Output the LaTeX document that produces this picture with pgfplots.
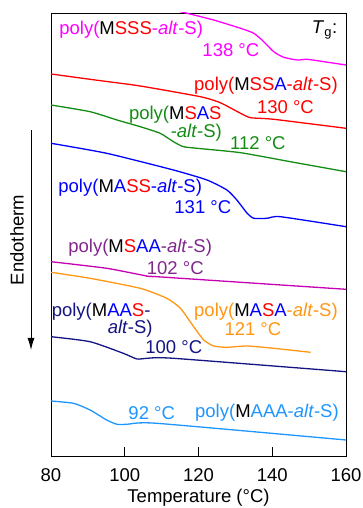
\documentclass[border=0pt]{standalone}
\usepackage{pgfplots}
\pgfplotsset{compat=1.18}
\usetikzlibrary{arrows.meta}
\usepackage{fontspec}
\setmainfont{Liberation Sans}
\definecolor{cmag}{RGB}{255,0,255}
\definecolor{cred}{RGB}{255,0,0}
\definecolor{cgreen}{RGB}{20,140,20}
\definecolor{cblue}{RGB}{0,0,255}
\definecolor{cpurp}{RGB}{128,40,140}
\definecolor{cpurpline}{RGB}{200,0,180}
\definecolor{corange}{RGB}{255,150,20}
\definecolor{cnavy}{RGB}{20,20,130}
\definecolor{clight}{RGB}{30,150,255}
\newcommand{\fs}{\fontsize{18.5}{22}\selectfont}
\newcommand{\Mk}{\textcolor{black}{M}}
\newcommand{\Sr}[1]{\textcolor{red}{#1}}
\newcommand{\Ab}[1]{\textcolor{blue}{#1}}
\begin{document}
\begin{tikzpicture}
\begin{axis}[
  scale only axis, width=295pt, height=443pt,
  xmin=80, xmax=160, ymin=-456, ymax=-13,
  xtick={80,100,120,140,160}, ytick=\empty,
  xtick pos=left, major tick length=9pt,
  axis line style={line width=0.9pt}, every tick/.style={line width=0.9pt, black},
  tick label style={font=\fs}, /pgf/number format/assume math mode=true,
  xticklabel style={anchor=base, yshift=-25.7pt},
  xlabel={Temperature (°C)}, label style={font=\fs},
  xlabel style={at={(axis description cs:0.5,0)}, anchor=base, yshift=-46.5pt},
  clip=true,
  every axis plot/.append style={line width=1.3pt, smooth, tension=0.35},
]
\addplot[cmag] coordinates {(110,-7)(116.9,-13.3)(124.1,-20)(131.4,-28.3)(135.0,-33.3)(137.7,-41.7)(140.4,-51.7)(143.1,-57.3)(146.8,-60)(149.5,-59.3)(154.0,-61.7)(160,-65)};
\addplot[cred] coordinates {(80,-74)(92,-80)(104.2,-86)(120.5,-96.7)(125.9,-102.7)(131.4,-113.3)(134.1,-117.7)(140.4,-119.3)(160,-128.3)};
\addplot[cgreen] coordinates {(80,-105)(90.6,-111.7)(97.9,-120)(104.2,-126.7)(109.6,-133.3)(113.2,-141.7)(115.9,-146.7)(119.6,-148.3)(131.4,-152.7)(144.9,-161.7)(160,-171.7)};
\addplot[cblue] coordinates {(80,-143.3)(95.1,-153.3)(113.2,-170)(122.3,-180)(127.7,-190)(130.4,-200)(133.2,-213.3)(135.0,-218.3)(138.6,-218.3)(142.2,-216.7)(160,-226.7)};
\addplot[cpurpline] coordinates {(80,-261.7)(95.1,-268.3)(106.0,-276)(108.7,-276.7)(160,-289.3)};
\addplot[corange] coordinates {(80,-272.3)(90.6,-278.3)(104.2,-288.3)(111.4,-298.3)(115.1,-308.3)(118.7,-326.7)(121.4,-340)(124.1,-346)(127.7,-347.3)(133.2,-346)(140.4,-348.3)(150.4,-352.3)};
\addplot[cnavy] coordinates {(80,-336.7)(90.6,-341.7)(99.6,-353.3)(103.3,-359)(106.0,-358.3)(113.2,-358.3)(160,-371.7)};
\addplot[clight] coordinates {(80,-401)(86.1,-403.3)(90.6,-410)(95.1,-420)(97.9,-424.3)(100.6,-424.3)(108.7,-423.3)(160,-440)};
\begin{scope}[every node/.style={font=\fs, inner sep=0pt}]
\node[text=cmag] at (axis cs:101.74,-30) {poly(\Mk\Sr{SSS}-\textit{alt}-S)};
\node[text=cmag] at (axis cs:128.78,-50) {138 °C};
\node[text=black] at (axis cs:154.18,-30) {\textit{T}\textsubscript{g}:};
\node[text=cred] at (axis cs:138.29,-86) {poly(\Mk\Sr{SS}\Ab{A}-\textit{alt}-S)};
\node[text=cred] at (axis cs:143.59,-107) {130 °C};
\node[text=cgreen] at (axis cs:113.70,-115) {poly(\Mk\Sr{S}\Ab{A}\Sr{S}};
\node[text=cgreen] at (axis cs:119.40,-133) {-\textit{alt}-S)};
\node[text=cgreen] at (axis cs:136.11,-143) {112 °C};
\node[text=cblue] at (axis cs:101.47,-188) {poly(\Mk\Ab{A}\Sr{SS}-\textit{alt}-S)};
\node[text=cblue] at (axis cs:121.17,-207) {131 °C};
\node[text=cpurp] at (axis cs:104.18,-248) {poly(\Mk\Sr{S}\Ab{AA}-\textit{alt}-S)};
\node[text=cpurp] at (axis cs:113.70,-268) {102 °C};
\node[text=corange] at (axis cs:138.29,-312) {poly(\Mk\Ab{A}\Sr{S}\Ab{A}-\textit{alt}-S)};
\node[text=corange] at (axis cs:134.75,-329) {121 °C};
\node[text=cnavy] at (axis cs:93.59,-312) {poly(\Mk\Ab{AA}\Sr{S}-};
\node[text=cnavy] at (axis cs:101.47,-329) {\textit{alt}-S)};
\node[text=cnavy] at (axis cs:113.29,-347) {100 °C};
\node[text=clight] at (axis cs:107.31,-413) {92 °C};
\node[text=clight] at (axis cs:138.56,-413) {poly(\Mk AAA-\textit{alt}-S)};
\end{scope}
\end{axis}
\draw[line width=0.9pt, -{Latex[length=12pt,width=7pt]}] (-20pt,326pt) -- (-20pt,106pt);
\node[rotate=90, font=\fs, inner sep=0pt] at (-34pt,216pt) {Endotherm};
\pgfresetboundingbox
\path[use as bounding box] (-51pt,-52pt) rectangle (312pt,456pt);
\end{tikzpicture}
\end{document}
